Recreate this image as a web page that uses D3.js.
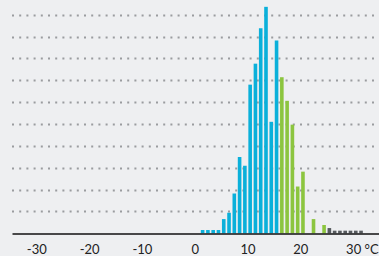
<!DOCTYPE html>
<html>
<head>
<style>
  body { margin: 0; background: #eeeff1; }
  svg { display: block; }
  .tick text { font-family: Lato, "Open Sans", sans-serif; font-size: 13px; fill: #222; }
  .grid line { stroke: #9a9c9f; stroke-width: 2px; stroke-dasharray: 2, 5.2; }
</style>
</head>
<body>
<svg width="379" height="256"></svg>
<script src="https://d3js.org/d3.v7.min.js"></script>
<script>
  // temperature bins (lower edge, °C) and bar heights in grid units
  var bins = [1, 2, 3, 4, 5, 6, 7, 8, 9, 10, 11, 12, 13, 14, 15, 16, 17, 18, 19, 20,
              21, 22, 23, 24, 25, 26, 27, 28, 29, 30, 31];
  var values = [0.15, 0.15, 0.15, 0.15, 0.65, 0.94, 1.82, 3.49, 3.09, 6.8, 7.76, 9.38, 10.36, 5.1, 8.82,
                7.14, 6.06, 4.97, 2.14, 2.82, 0, 0.65, 0, 0.38,
                0.24, 0.12, 0.12, 0.12, 0.12, 0.12, 0.12];
  var xTicks = [-30, -20, -10, 0, 10, 20, 30];
  var gridLevels = [1, 2, 3, 4, 5, 6, 7, 8, 9, 10];

  function colorFor(t) {
    if (t < 16) return "#0ab0da";
    if (t < 25) return "#8cc53f";
    return "#565a5e";
  }

  var svg = d3.select("svg");

  var x = d3.scaleLinear().domain([-34.6, 34.9]).range([12, 379]);
  var y = d3.scaleLinear().domain([0, 10]).range([233.3, 14.7]);

  // dotted grid
  svg.append("g")
    .attr("class", "grid")
    .selectAll("line")
    .data(gridLevels)
    .enter().append("line")
    .attr("x1", 12)
    .attr("x2", 379)
    .attr("y1", function(d) { return Math.round(y(d)) + 0.5; })
    .attr("y2", function(d) { return Math.round(y(d)) + 0.5; });

  var data = bins.map(function(b, i) { return { t: b, v: values[i] }; });
  var bw = 3.6;

  svg.append("g")
    .selectAll("rect")
    .data(data.filter(function(d) { return d.v > 0; }))
    .enter().append("rect")
    .attr("x", function(d) { return x(d.t + 0.5) - bw / 2; })
    .attr("width", bw)
    .attr("y", function(d) { return y(d.v); })
    .attr("height", function(d) { return y(0) - y(d.v); })
    .attr("fill", function(d) { return colorFor(d.t); });

  var xAxis = d3.axisBottom(x)
    .tickValues(xTicks)
    .tickSize(0)
    .tickPadding(11)
    .tickFormat(function(d) { return d === 30 ? "30 °C" : String(d).replace("−", "-"); });

  var ax = svg.append("g")
    .attr("transform", "translate(0," + 233.5 + ")")
    .call(xAxis);

  ax.select(".domain").attr("stroke", "#111").attr("stroke-width", 1.6);

  // keep "30" centred on its tick, the unit runs on to the right
  ax.selectAll(".tick text")
    .filter(function(d) { return d === 30; })
    .attr("text-anchor", "start")
    .attr("dx", "-0.58em");
</script>
</body>
</html>
